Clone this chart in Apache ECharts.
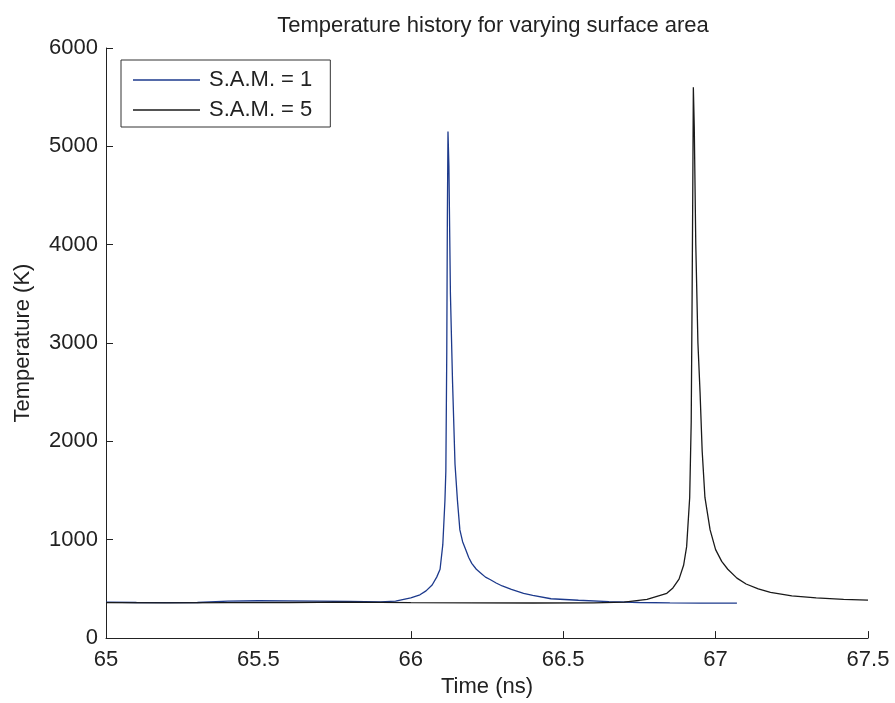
<!DOCTYPE html>
<html>
<head>
<meta charset="utf-8">
<script src="https://cdn.jsdelivr.net/npm/echarts@6/dist/echarts.min.js"></script>
<style>html,body{margin:0;padding:0;background:#fff;}#c{width:895px;height:703px;}</style>
</head>
<body>
<div id="c"></div>
<script>
const titleText = 'Temperature history for varying surface area';
const xName = 'Time (ns)';
const yName = 'Temperature (K)';
const seriesNames = ['S.A.M. = 1', 'S.A.M. = 5'];

const time1 = [65.00,65.10,65.20,65.30,65.40,65.50,65.60,65.70,65.80,65.90,65.95,66.00,66.03,66.05,66.07,66.085,66.096,66.105,66.112,66.115,66.118,66.120,66.122,66.125,66.130,66.137,66.145,66.153,66.161,66.17,66.18,66.19,66.20,66.215,66.23,66.245,66.26,66.28,66.30,66.33,66.37,66.40,66.46,66.55,66.65,66.75,66.85,66.95,67.07];
const temp1 = [365,362,360,362,375,380,378,375,372,368,375,410,440,480,540,620,700,950,1400,1700,2900,4300,5150,4800,3500,2600,1770,1400,1100,980,900,820,760,700,660,620,596,560,530,495,455,435,400,385,370,362,358,356,355];

const time2 = [65.00,65.20,65.40,65.60,65.80,66.00,66.20,66.40,66.60,66.70,66.775,66.84,66.86,66.88,66.895,66.905,66.915,66.920,66.923,66.925,66.927,66.930,66.935,66.942,66.949,66.956,66.965,66.982,67.00,67.02,67.04,67.07,67.10,67.14,67.18,67.25,67.33,67.42,67.50];
const temp2 = [360,358,360,362,365,360,358,357,358,365,394,455,510,600,740,930,1430,2200,3500,4500,5600,5200,4000,3000,2500,1900,1430,1100,900,780,700,610,550,500,465,430,408,394,386];

const xMin = 65, xMax = 67.5, xStep = 0.5;
const yMin = 0, yMax = 6000, yStep = 1000;

const colors = ['#1d3a8c', '#1a1a1a'];
const font = 'Liberation Sans, Arial, Helvetica, sans-serif';

function pairs(xs, ys){ return xs.map((x,i)=>[x, ys[i]]); }

const chart = echarts.init(document.getElementById('c'), null, {renderer:'canvas'});
chart.setOption({
  backgroundColor: '#fff',
  animation: false,
  title: {
    text: titleText, left: 488, top: 10, textAlign: 'center',
    textStyle: {fontFamily: font, fontSize: 22, fontWeight: 'normal', color: '#222'}
  },
  legend: {
    data: seriesNames.map(n => ({name: n, icon: 'rect'})),
    orient: 'vertical', left: 121, top: 60,
    itemWidth: 67, itemHeight: 1.5, itemGap: 8,
    padding: [9, 18, 6, 12],
    borderColor: '#333', borderWidth: 1,
    textStyle: {fontFamily: font, fontSize: 22, color: '#222', lineHeight: 22, padding: [0,0,0,4]}
  },
  grid: {left: 106, right: 27, top: 48, bottom: 61, containLabel: false},
  xAxis: {
    type: 'value', min: xMin, max: xMax, interval: xStep,
    name: xName, nameLocation: 'middle', nameGap: 37,
    nameTextStyle: {fontFamily: font, fontSize: 22, color: '#222'},
    axisLine: {show: true, onZero: false, lineStyle: {color: '#222', width: 1}},
    axisTick: {show: true, inside: true, length: 7, lineStyle: {color: '#222'}},
    axisLabel: {fontFamily: font, fontSize: 22, color: '#222', margin: 11, formatter: v => String(v)},
    splitLine: {show: false}
  },
  yAxis: {
    type: 'value', min: yMin, max: yMax, interval: yStep,
    name: yName, nameLocation: 'middle', nameGap: 72,
    nameTextStyle: {fontFamily: font, fontSize: 22, color: '#222'},
    axisLine: {show: true, lineStyle: {color: '#222', width: 1}},
    axisTick: {show: true, inside: true, length: 7, lineStyle: {color: '#222'}},
    axisLabel: {fontFamily: font, fontSize: 22, color: '#222', margin: 8, formatter: v => String(v)},
    splitLine: {show: false}
  },
  series: [
    {name: seriesNames[0], type: 'line', data: pairs(time1, temp1), showSymbol: false, symbol: 'none',
     lineStyle: {color: colors[0], width: 1.3}, itemStyle: {color: colors[0]}},
    {name: seriesNames[1], type: 'line', data: pairs(time2, temp2), showSymbol: false, symbol: 'none',
     lineStyle: {color: colors[1], width: 1.3}, itemStyle: {color: colors[1]}}
  ]
});
</script>
</body>
</html>
